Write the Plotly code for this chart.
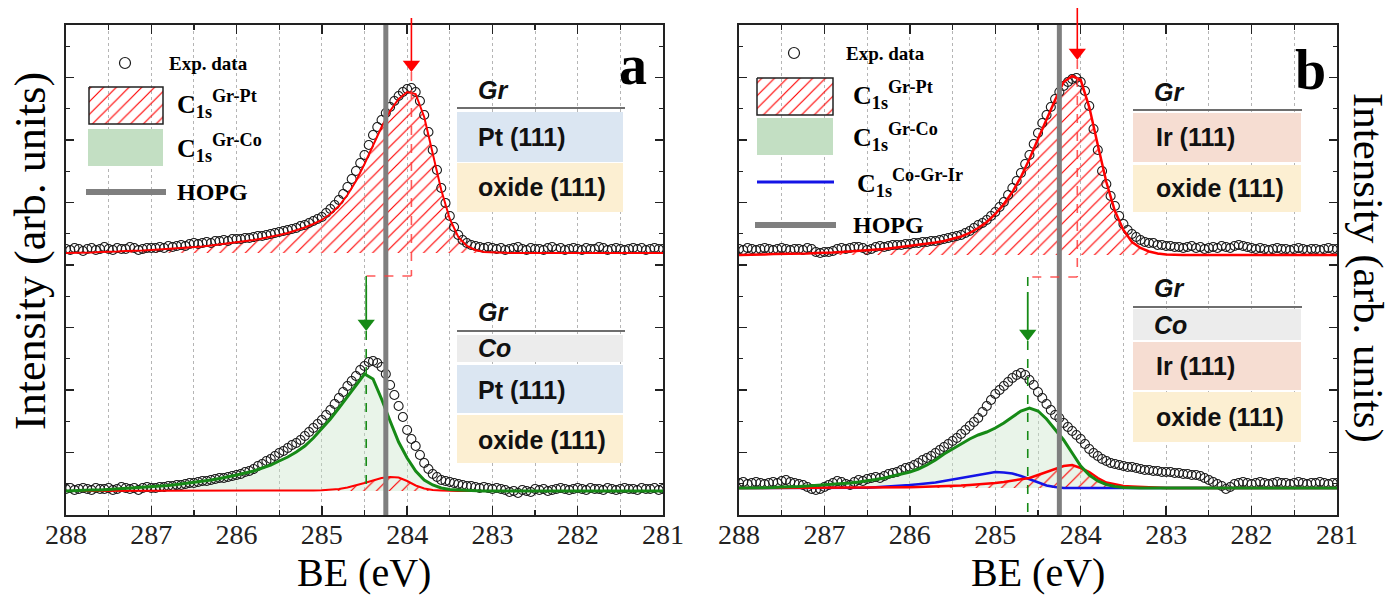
import numpy as np
import plotly.graph_objects as go

# ---------------- data ----------------
# binding-energy grids (eV), experimental points every 0.05 eV, fits every 0.1 eV
BE_EXP = np.round(np.linspace(288.0, 281.0, 141), 2)
BE_FIT = np.round(np.linspace(288.0, 281.0, 71), 2)
TICKS = [288, 287, 286, 285, 284, 283, 282, 281]

HOPG_BE = 284.25
PEAK_A = {"GrPt": 283.95, "GrCo": 284.48}
PEAK_B = {"GrPt": 284.04, "GrCo": 284.62}

# baseline offsets of the stacked spectra (arb. units)
OFF_A_TOP, OFF_A_BOT = 26.2, 2.4
OFF_B_TOP, OFF_B_BOT = 26.0, 2.7

# ---- panel a, Gr/Pt(111) ----
a_top_exp = [0.4, 0.3, 0.5, 0.4, 0.2, 0.4, 0.5, 0.3, 0.4, 0.6, 0.4, 0.3, 0.5, 0.4, 0.4, 0.6, 0.5, 0.3, 0.4, 0.5, 0.5,
             0.5, 0.6, 0.5, 0.7, 0.6, 0.7, 0.8, 0.7, 0.9, 1.0, 0.9, 1.0, 1.1, 1.0, 1.2, 1.2, 1.3, 1.2, 1.4, 1.4,
             1.4, 1.5, 1.5, 1.6, 1.7, 1.7, 1.8, 1.9, 2.0, 2.1, 2.2, 2.3, 2.4, 2.5, 2.7, 2.8, 3.0, 3.2, 3.4, 3.6,
             4.0, 4.4, 4.8, 5.3, 5.9, 6.6, 7.4, 8.2, 9.0, 9.8, 10.8, 11.8, 12.6, 13.3, 14.0, 14.6, 15.2, 15.7, 16.1, 16.4,
             16.5, 16.1, 15.2, 13.8, 12.1, 10.3, 8.3, 6.5, 5.0, 3.7, 2.6, 1.8, 1.3, 1.0, 0.8, 0.7, 0.6, 0.5, 0.6, 0.5,
             0.4, 0.5, 0.3, 0.4, 0.5, 0.6, 0.4, 0.3, 0.5, 0.4, 0.4, 0.3, 0.5, 0.6, 0.4, 0.5, 0.3, 0.4, 0.5, 0.4,
             0.3, 0.5, 0.4, 0.4, 0.6, 0.5, 0.3, 0.4, 0.5, 0.4, 0.3, 0.4, 0.5, 0.4, 0.5, 0.3, 0.4, 0.5, 0.4, 0.4]
a_top_grpt = [0.0, 0.0, 0.05, 0.05, 0.1, 0.1, 0.15, 0.2, 0.2, 0.25, 0.3,
              0.35, 0.4, 0.45, 0.5, 0.6, 0.65, 0.75, 0.85, 0.95, 1.05,
              1.15, 1.3, 1.45, 1.6, 1.8, 2.0, 2.25, 2.55, 2.9, 3.3,
              3.9, 4.7, 5.8, 7.2, 8.9, 10.8, 12.6, 14.2, 15.4, 16.1,
              15.9, 13.6, 10.0, 6.3, 3.4, 1.6, 0.7, 0.3, 0.1, 0.05,
              0, 0, 0, 0, 0, 0, 0, 0, 0, 0,
              0, 0, 0, 0, 0, 0, 0, 0, 0, 0]

# ---- panel a, Gr/Co/Pt(111) ----
a_bot_exp = [0.2, 0.3, 0.1, 0.2, 0.3, 0.2, 0.1, 0.3, 0.2, 0.2, 0.3, 0.1, 0.2, 0.4, 0.3, 0.2, 0.3, 0.1, 0.3, 0.4, 0.3,
             0.3, 0.4, 0.4, 0.5, 0.5, 0.6, 0.6, 0.7, 0.8, 0.8, 0.9, 1.0, 1.0, 1.1, 1.2, 1.3, 1.3, 1.4, 1.5, 1.6,
             1.7, 1.9, 2.0, 2.2, 2.5, 2.7, 3.0, 3.2, 3.5, 3.8, 4.0, 4.3, 4.6, 4.8, 5.1, 5.5, 5.9, 6.3, 6.7, 7.1,
             7.6, 8.1, 8.7, 9.3, 9.9, 10.5, 11.0, 11.5, 12.1, 12.5, 12.9, 13.0, 12.8, 12.4, 11.7, 10.6, 9.6, 8.5, 7.4, 6.1,
             5.2, 4.5, 3.6, 2.8, 2.2, 1.7, 1.4, 1.1, 1.0, 0.9, 0.8, 0.7, 0.6, 0.5, 0.5, 0.4, 0.3, 0.4, 0.3, 0.2,
             0.3, 0.2, 0.1, -0.1, 0.0, -0.2, 0.1, 0.0, -0.1, 0.2, 0.1, 0.2, 0.0, 0.1, 0.2, 0.3, 0.2, 0.1, 0.2, 0.3,
             0.2, 0.1, 0.3, 0.2, 0.2, 0.1, 0.3, 0.2, 0.1, 0.2, 0.3, 0.2, 0.2, 0.1, 0.3, 0.2, 0.2, 0.3, 0.1, 0.2]
a_bot_grco = [0.0, 0.05, 0.05, 0.1, 0.1, 0.15, 0.2, 0.25, 0.3, 0.35, 0.4,
              0.5, 0.55, 0.65, 0.75, 0.85, 1.0, 1.1, 1.25, 1.4, 1.6,
              1.8, 2.0, 2.3, 2.6, 3.0, 3.4, 3.9, 4.5, 5.3, 6.2,
              7.2, 8.3, 9.4, 10.6, 11.7, 11.2, 9.2, 7.0, 4.9, 3.3,
              2.0, 1.1, 0.6, 0.3, 0.15, 0.1, 0.05, 0, 0, 0,
              0, 0, 0, 0, 0, 0, 0, 0, 0, 0,
              0, 0, 0, 0, 0, 0, 0, 0, 0, 0]
a_bot_grpt = [0, 0, 0, 0, 0, 0, 0, 0, 0, 0, 0,
              0, 0, 0, 0, 0, 0, 0, 0, 0, 0,
              0, 0, 0, 0, 0, 0.02, 0.03, 0.04, 0.05, 0.08,
              0.12, 0.2, 0.35, 0.55, 0.8, 1.05, 1.3, 1.4, 1.35, 1.0,
              0.55, 0.25, 0.1, 0.05, 0, 0, 0, 0, 0, 0,
              0, 0, 0, 0, 0, 0, 0, 0, 0, 0,
              0, 0, 0, 0, 0, 0, 0, 0, 0, 0]

# ---- panel b, Gr/Ir(111) ----
b_top_exp = [0.6, 0.5, 0.7, 0.6, 0.5, 0.6, 0.7, 0.6, 0.5, 0.6, 0.7, 0.6, 0.5, 0.6, 0.6, 0.5, 0.7, 0.6, 0.3, 0.2, 0.3,
             0.3, 0.4, 0.6, 0.7, 0.6, 0.7, 0.8, 0.8, 0.7, 0.5, 0.6, 0.8, 0.9, 0.8, 0.9, 1.0, 1.0, 1.0, 1.1, 1.1,
             1.2, 1.2, 1.3, 1.3, 1.4, 1.4, 1.5, 1.6, 1.7, 1.8, 1.9, 2.0, 2.2, 2.4, 2.7, 3.0, 3.2, 3.5, 3.9, 4.3,
             4.8, 5.3, 6.0, 6.7, 7.4, 8.2, 9.1, 10.0, 11.1, 12.2, 13.2, 14.0, 14.8, 15.6, 16.3, 16.9, 17.3, 17.6, 17.7, 17.3,
             16.4, 14.9, 12.6, 10.5, 8.4, 7.1, 5.9, 4.9, 3.9, 3.1, 2.5, 2.1, 1.8, 1.5, 1.3, 1.2, 1.2, 1.0, 1.0, 0.9,
             0.9, 0.8, 0.8, 0.7, 0.8, 0.9, 0.7, 0.8, 0.6, 0.7, 0.8, 0.7, 0.9, 0.8, 0.7, 0.9, 1.0, 0.9, 0.8, 0.7,
             0.6, 0.7, 0.6, 0.5, 0.6, 0.7, 0.6, 0.6, 0.5, 0.6, 0.7, 0.6, 0.5, 0.6, 0.6, 0.5, 0.6, 0.7, 0.6, 0.6]
b_top_grpt = [0.0, 0.0, 0.05, 0.05, 0.1, 0.1, 0.1, 0.15, 0.15, 0.2, 0.2,
              0.25, 0.3, 0.35, 0.4, 0.45, 0.5, 0.6, 0.7, 0.8, 0.9,
              1.0, 1.1, 1.25, 1.4, 1.6, 1.85, 2.2, 2.7, 3.3, 4.1,
              5.1, 6.3, 7.8, 9.6, 11.6, 13.6, 15.5, 17.3, 17.9, 17.5,
              14.8, 11.0, 7.3, 4.4, 2.5, 1.3, 0.7, 0.35, 0.15, 0.05,
              0, 0, 0, 0, 0, 0, 0, 0, 0, 0,
              0, 0, 0, 0, 0, 0, 0, 0, 0, 0]

# ---- panel b, Gr/Co/Ir(111) ----
b_bot_exp = [0.5, 0.6, 0.4, 0.5, 0.6, 0.5, 0.4, 0.5, 0.6, 0.5, 0.7, 0.8, 0.6, 0.5, 0.4, 0.3, 0.1, -0.1, -0.2, -0.1, 0.1,
             0.3, 0.5, 0.7, 0.6, 0.4, 0.3, 0.6, 0.8, 0.7, 0.9, 1.0, 1.1, 1.0, 1.2, 1.4, 1.5, 1.6, 1.8, 2.0, 2.1,
             2.3, 2.5, 2.8, 3.0, 3.2, 3.5, 3.8, 4.1, 4.4, 4.7, 5.0, 5.4, 5.8, 6.2, 6.6, 7.0, 7.6, 8.2, 8.8, 9.4,
             9.8, 10.2, 10.6, 11.0, 11.3, 11.5, 11.3, 10.8, 10.3, 9.6, 9.0, 8.4, 7.8, 7.3, 7.0, 6.5, 6.1, 5.7, 5.3, 4.9,
             4.4, 3.9, 3.5, 3.2, 2.9, 2.7, 2.5, 2.4, 2.3, 2.2, 2.1, 2.1, 2.0, 1.9, 1.8, 1.8, 1.7, 1.7, 1.6, 1.6,
             1.6, 1.5, 1.5, 1.4, 1.4, 1.3, 1.3, 1.2, 1.0, 0.8, 0.6, 0.4, 0.2, -0.1, 0.1, 0.4, 0.5, 0.6, 0.5, 0.4,
             0.5, 0.6, 0.5, 0.4, 0.5, 0.6, 0.5, 0.5, 0.4, 0.5, 0.6, 0.5, 0.4, 0.5, 0.5, 0.6, 0.5, 0.4, 0.5, 0.5]
b_bot_grco = [0.0, 0.0, 0.0, 0.05, 0.05, 0.1, 0.1, 0.15, 0.2, 0.25, 0.3,
              0.35, 0.4, 0.5, 0.6, 0.7, 0.85, 1.0, 1.2, 1.4, 1.6,
              1.9, 2.3, 2.8, 3.4, 3.9, 4.4, 4.9, 5.3, 5.6, 6.0,
              6.5, 7.1, 7.7, 8.0, 7.7, 6.9, 5.9, 4.8, 3.5, 2.2,
              1.3, 0.7, 0.35, 0.15, 0.05, 0, 0, 0, 0, 0,
              0, 0, 0, 0, 0, 0, 0, 0, 0, 0,
              0, 0, 0, 0, 0, 0, 0, 0, 0, 0]
b_bot_cogrir = [0, 0, 0, 0, 0, 0, 0, 0, 0, 0, 0,
                0, 0, 0, 0, 0.02, 0.08, 0.12, 0.18, 0.24, 0.3,
                0.38, 0.46, 0.55, 0.7, 0.85, 1.0, 1.15, 1.3, 1.45, 1.6,
                1.55, 1.45, 1.2, 0.9, 0.55, 0.25, 0.1, 0.0, 0, 0,
                0, 0, 0, 0, 0, 0, 0, 0, 0, 0,
                0, 0, 0, 0, 0, 0, 0, 0, 0, 0,
                0, 0, 0, 0, 0, 0, 0, 0, 0, 0]
b_bot_grpt = [0, 0, 0, 0, 0, 0, 0, 0, 0, 0, 0,
              0, 0, 0, 0, 0, 0.01, 0.02, 0.03, 0.05, 0.07,
              0.09, 0.11, 0.14, 0.17, 0.2, 0.24, 0.3, 0.35, 0.42, 0.5,
              0.6, 0.72, 0.85, 1.0, 1.3, 1.6, 1.95, 2.2, 2.3, 2.0,
              1.6, 1.0, 0.55, 0.35, 0.2, 0.15, 0.1, 0.05, 0.02, 0,
              0, 0, 0, 0, 0, 0, 0, 0, 0, 0,
              0, 0, 0, 0, 0, 0, 0, 0, 0, 0]

# ---------------- style ----------------
SERIF = "Liberation Serif, Times New Roman, serif"
SANS = "Liberation Sans, Arial, sans-serif"
RED = "#ff0000"
GREEN = "#168a16"
BLUE = "#1414e6"
GRAY = "#7f7f7f"
GREEN_FILL = "rgba(200,228,200,0.40)"
LEG_GREEN = "#c3dfc3"
HATCH = dict(shape="/", fgcolor=RED, bgcolor="rgba(255,255,255,0)", size=9, solidity=0.13,
             fgopacity=1.0)

W, H = 1395, 598
PLOT_TOP, PLOT_BOT = 25, 515
Y_MAX = 49.0
dom_y = [(H - PLOT_BOT) / H, (H - PLOT_TOP) / H]
dom_xa = [66 / W, 663 / W]
dom_xb = [739 / W, 1337 / W]


def y_paper(v):
    """y-axis value -> paper fraction (for marks that reach above the frame)"""
    return dom_y[0] + v / Y_MAX * (dom_y[1] - dom_y[0])


fig = go.Figure()


def ax_names(p):
    return ("x", "y") if p == "a" else ("x2", "y2")


def add_fill(p, x, vals, off, hatched):
    xa, ya = ax_names(p)
    xs = list(x) + [x[-1], x[0]]
    ys = [off + v for v in vals] + [off, off]
    if hatched:
        fig.add_trace(go.Scatter(x=xs, y=ys, xaxis=xa, yaxis=ya, mode="lines", fill="toself",
                                 fillcolor="rgba(255,255,255,0)", fillpattern=HATCH,
                                 line=dict(width=0), hoverinfo="skip", showlegend=False))
    else:
        fig.add_trace(go.Scatter(x=xs, y=ys, xaxis=xa, yaxis=ya, mode="lines", fill="toself",
                                 fillcolor=GREEN_FILL, line=dict(width=0),
                                 hoverinfo="skip", showlegend=False))


def add_line(p, x, vals, off, color, width):
    xa, ya = ax_names(p)
    fig.add_trace(go.Scatter(x=x, y=[off + v for v in vals], xaxis=xa, yaxis=ya, mode="lines",
                             line=dict(color=color, width=width), hoverinfo="skip", showlegend=False))


def add_exp(p, vals, off):
    xa, ya = ax_names(p)
    fig.add_trace(go.Scatter(x=BE_EXP, y=[off + v for v in vals], xaxis=xa, yaxis=ya, mode="markers",
                             marker=dict(symbol="circle-open", size=9, color="#1a1a1a",
                                         line=dict(width=1.1, color="#1a1a1a")),
                             hoverinfo="skip", showlegend=False))


# panel a
add_fill("a", BE_FIT, a_top_grpt, OFF_A_TOP, True)
add_fill("a", BE_FIT, a_bot_grco, OFF_A_BOT, False)
add_fill("a", BE_FIT, a_bot_grpt, OFF_A_BOT, True)
add_exp("a", a_top_exp, OFF_A_TOP)
add_exp("a", a_bot_exp, OFF_A_BOT)
add_line("a", BE_FIT, a_top_grpt, OFF_A_TOP, RED, 2)
add_line("a", BE_FIT, a_bot_grpt, OFF_A_BOT, RED, 2)
add_line("a", BE_FIT, a_bot_grco, OFF_A_BOT, GREEN, 3)

# panel b
add_fill("b", BE_FIT, b_top_grpt, OFF_B_TOP, True)
add_fill("b", BE_FIT, b_bot_grco, OFF_B_BOT, False)
add_fill("b", BE_FIT, b_bot_grpt, OFF_B_BOT, True)
add_exp("b", b_top_exp, OFF_B_TOP)
add_exp("b", b_bot_exp, OFF_B_BOT)
add_line("b", BE_FIT, b_top_grpt, OFF_B_TOP, RED, 2.5)
add_line("b", BE_FIT, b_bot_cogrir, OFF_B_BOT, BLUE, 2.5)
add_line("b", BE_FIT, b_bot_grpt, OFF_B_BOT, RED, 2.5)
add_line("b", BE_FIT, b_bot_grco, OFF_B_BOT, GREEN, 3)

shapes = []
annotations = []

# HOPG reference lines
for xa in ("x", "x2"):
    ya = "y" if xa == "x" else "y2"
    shapes.append(dict(type="line", xref=xa, yref=ya + " domain", x0=HOPG_BE, x1=HOPG_BE, y0=0, y1=1,
                       line=dict(color=GRAY, width=5), layer="above"))

# arrows / connectors:
# (panel, red x, green x, arrow tail y, red tip y, link y, green solid start, green tip y, green end y)
CONNECT = [
    ("a", PEAK_A["GrPt"], PEAK_A["GrCo"], 49.7, 44.3, 23.9, 23.0, 18.4, 2.4),
    ("b", PEAK_B["GrPt"], PEAK_B["GrCo"], 50.7, 45.5, 23.8, 22.3, 17.4, 0.2),
]
HEAD = 15  # triangle marker size (px); its centre sits HEAD/2 px above the tip
for p, xr, xg, ytail, ytip_r, ylink, ygs, ytip_g, yend in CONNECT:
    xa, ya = ax_names(p)
    half = HEAD / 2 / 10.0
    shapes.append(dict(type="line", xref=xa, yref="paper", x0=xr, x1=xr,
                       y0=y_paper(ytail), y1=y_paper(ytip_r + half),
                       line=dict(color=RED, width=1.6)))
    dash_r = dict(color="rgba(255,60,60,0.85)", width=1.6, dash="dash")
    dash_g = dict(color=GREEN, width=1.6, dash="dash")
    shapes.append(dict(type="line", xref=xa, yref=ya, x0=xr, x1=xr, y0=ytip_r, y1=ylink, line=dash_r))
    shapes.append(dict(type="line", xref=xa, yref=ya, x0=xr, x1=xg, y0=ylink, y1=ylink, line=dash_r))
    shapes.append(dict(type="line", xref=xa, yref=ya, x0=xg, x1=xg, y0=ylink, y1=ygs, line=dash_g))
    shapes.append(dict(type="line", xref=xa, yref=ya, x0=xg, x1=xg, y0=ygs, y1=ytip_g + half,
                       line=dict(color=GREEN, width=1.8)))
    shapes.append(dict(type="line", xref=xa, yref=ya, x0=xg, x1=xg, y0=ytip_g, y1=yend, line=dash_g))
    fig.add_trace(go.Scatter(x=[xr, xg], y=[ytip_r + half, ytip_g + half], xaxis=xa, yaxis=ya,
                             mode="markers", cliponaxis=False,
                             marker=dict(symbol="triangle-down", size=HEAD, color=[RED, GREEN],
                                         line=dict(width=0)),
                             hoverinfo="skip", showlegend=False))


# ---------------- decorations in figure-pixel space (x3 / y3) ----------------
def box(x0, x1, y0, y1, color):
    shapes.append(dict(type="rect", xref="x3", yref="y3", x0=x0, x1=x1, y0=y0, y1=y1,
                       fillcolor=color, line=dict(width=0), layer="above"))


def hline(x0, x1, y, color, width):
    shapes.append(dict(type="line", xref="x3", yref="y3", x0=x0, x1=x1, y0=y, y1=y,
                       line=dict(color=color, width=width), layer="above"))


def text(x, y, s, size, family=SERIF, anchor="left", angle=0, color="black", yanchor="middle"):
    annotations.append(dict(x=x, y=y, xref="x3", yref="y3", text=s, showarrow=False,
                            xanchor=anchor, yanchor=yanchor, textangle=angle,
                            font=dict(family=family, size=size, color=color)))


PT_C, OX_C, CO_C, IR_C = "#dbe6f2", "#fcefd2", "#ececec", "#f6ddd2"
LINE_C = "#6e6e6e"

# panel a stacks
hline(457, 625, 108, LINE_C, 2)
box(457, 623, 112, 162, PT_C)
box(457, 623, 163, 212, OX_C)
hline(457, 625, 331, LINE_C, 2)
box(457, 623, 335, 362, CO_C)
box(457, 623, 365, 413, PT_C)
box(457, 623, 415, 463, OX_C)
# panel b stacks
hline(1133, 1302, 110, LINE_C, 2)
box(1133, 1301, 113, 162, IR_C)
box(1133, 1301, 165, 212, OX_C)
hline(1133, 1302, 307, LINE_C, 2)
box(1133, 1301, 309, 340, CO_C)
box(1133, 1301, 342, 390, IR_C)
box(1133, 1301, 392, 442, OX_C)

for (x, y, s) in [(476, 90, "<i>Gr</i>"), (476, 137, "Pt (111)"), (476, 187, "oxide (111)"),
                  (476, 312, "<i>Gr</i>"), (476, 348, "<i>Co</i>"), (476, 390, "Pt (111)"),
                  (476, 440, "oxide (111)"),
                  (1152, 92, "<i>Gr</i>"), (1154, 137, "Ir (111)"), (1154, 188, "oxide (111)"),
                  (1152, 288, "<i>Gr</i>"), (1152, 325, "<i>Co</i>"), (1154, 366, "Ir (111)"),
                  (1154, 417, "oxide (111)")]:
    text(x, y, "<b>" + s + "</b>", 25, family=SANS, color="#111111")

# legends
LEG = {
    "a": dict(circ=(125, 63), exp=(167, 63), hb=(89, 163, 87, 124), t1=(175, 104),
              gb=(88, 163, 129, 166), t2=(175, 148), hopg=(86, 166, 192), th=(175, 192), blue=None),
    "b": dict(circ=(794, 53), exp=(844, 53), hb=(757, 833, 78, 115), t1=(851, 95),
              gb=(757, 833, 118, 155), t2=(851, 137), hopg=(755, 836, 225), th=(851, 225),
              blue=(757, 834, 182, 855, 183)),
}
for p, L in LEG.items():
    fig.add_trace(go.Scatter(x=[L["circ"][0]], y=[L["circ"][1]], xaxis="x3", yaxis="y3", mode="markers",
                             marker=dict(symbol="circle-open", size=11, color="#1a1a1a",
                                         line=dict(width=1.2)), hoverinfo="skip", showlegend=False))
    text(L["exp"][0], L["exp"][1], "<b>Exp. data</b>", 19)
    x0, x1, y0, y1 = L["hb"]
    fig.add_trace(go.Scatter(x=[x0, x1, x1, x0, x0], y=[y0, y0, y1, y1, y0], xaxis="x3", yaxis="y3",
                             mode="lines", fill="toself", fillcolor="rgba(255,255,255,0)",
                             fillpattern=HATCH, line=dict(color="#222222", width=1.5),
                             hoverinfo="skip", showlegend=False))
    text(L["t1"][0], L["t1"][1], "<b>C<sub>1s</sub><sup>Gr-Pt</sup></b>", 26)
    x0, x1, y0, y1 = L["gb"]
    box(x0, x1, y0, y1, LEG_GREEN)
    text(L["t2"][0], L["t2"][1], "<b>C<sub>1s</sub><sup>Gr-Co</sup></b>", 26)
    hx0, hx1, hy = L["hopg"]
    hline(hx0, hx1, hy, GRAY, 6)
    text(L["th"][0], L["th"][1], "<b>HOPG</b>", 24)
    if L["blue"]:
        bx0, bx1, by, tx, ty = L["blue"]
        hline(bx0, bx1, by, BLUE, 3)
        text(tx, ty, "<b>C<sub>1s</sub><sup>Co-Gr-Ir</sup></b>", 26)

text(633, 65, "<b>a</b>", 56, anchor="center")
text(1310, 70, "<b>b</b>", 56, anchor="center")

# axis titles
text(364, 597, "BE (eV)", 40, anchor="center", yanchor="bottom")
text(1038, 597, "BE (eV)", 40, anchor="center", yanchor="bottom")
text(30, 251, "Intensity (arb. units)", 44, anchor="center", angle=-90)
text(1368, 268, "Intensity (arb. units)", 43, anchor="center", angle=90)

# ---------------- axes ----------------
grid = dict(showgrid=True, gridcolor="#b5b5b5", griddash="dot", gridwidth=1)
xcommon = dict(range=[288, 281], tickmode="array", tickvals=TICKS, ticktext=[str(t) for t in TICKS],
               ticks="inside", ticklen=9, tickwidth=1.4, tickcolor="#222", ticklabelstandoff=-6,
               minor=dict(dtick=0.5, tick0=281, ticks="inside", ticklen=5, tickwidth=1.2, tickcolor="#222",
                          showgrid=True, gridcolor="#b5b5b5", griddash="dot", gridwidth=1),
               showline=True, linecolor="#222", linewidth=1.6, mirror="allticks", zeroline=False,
               automargin=False,
               tickfont=dict(family=SERIF, size=28, color="#222"), fixedrange=True, **grid)
ycommon = dict(range=[0, Y_MAX], showticklabels=False, ticks="inside", ticklen=8, tickwidth=1.4,
               tickcolor="#222", dtick=6.25, tick0=0,
               minor=dict(dtick=3.125, ticks="inside", ticklen=4, tickwidth=1.2, tickcolor="#222"),
               showgrid=False, zeroline=False, showline=True, linecolor="#222", linewidth=1.6,
               mirror="allticks", fixedrange=True, automargin=False)

fig.update_layout(
    template="none",
    width=W, height=H, autosize=False, margin=dict(l=0, r=0, t=0, b=0, pad=0),
    paper_bgcolor="white", plot_bgcolor="rgba(0,0,0,0)",
    showlegend=False,
    xaxis=dict(domain=dom_xa, anchor="y", **xcommon),
    yaxis=dict(domain=dom_y, anchor="x", **ycommon),
    xaxis2=dict(domain=dom_xb, anchor="y2", **xcommon),
    yaxis2=dict(domain=dom_y, anchor="x2", **ycommon),
    xaxis3=dict(domain=[0, 1], range=[0, W], anchor="y3", visible=False, fixedrange=True,
                automargin=False),
    yaxis3=dict(domain=[0, 1], range=[H, 0], anchor="x3", visible=False, fixedrange=True,
                automargin=False),
    shapes=shapes,
    annotations=annotations,
)

fig.write_html("out.html", config={"displayModeBar": False, "staticPlot": True})

# remove the browser's default page margin so the figure sits at the window origin
with open("out.html", "r", encoding="utf-8") as f:
    page = f.read()
page = page.replace("<head>", "<head><style>html,body{margin:0;padding:0;overflow:hidden;}</style>", 1)
with open("out.html", "w", encoding="utf-8") as f:
    f.write(page)
